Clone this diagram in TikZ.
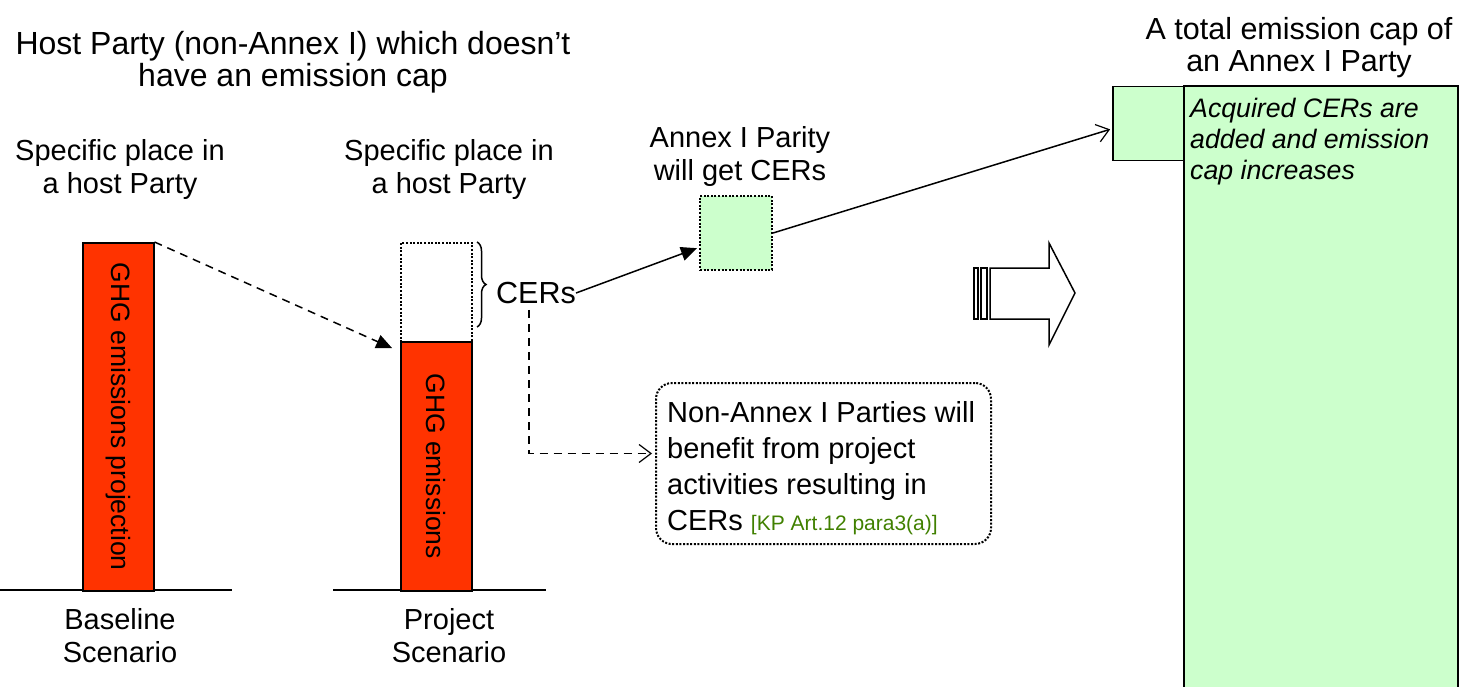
\documentclass[tikz,border=0pt]{standalone}
\usepackage{fontspec}
\setmainfont{Liberation Sans}
\usetikzlibrary{arrows.meta,calc,decorations.pathreplacing}
\definecolor{barred}{RGB}{255,51,0}
\definecolor{lgreen}{RGB}{204,255,204}
\definecolor{refgreen}{RGB}{64,128,0}
\begin{document}
\begin{tikzpicture}[x=1pt,y=-1pt,
  lbl/.style={font=\fontsize{29}{33}\selectfont, align=center, inner sep=0pt},
  bar/.style={draw=black, line width=1.5pt, fill=barred, inner sep=0pt, anchor=north west},
  dotbox/.style={draw=black, line width=2pt, dash pattern=on 2pt off 1.6pt, inner sep=0pt, anchor=north west},
  ground/.style={line width=1.5pt},
  conn/.style={line width=1.5pt},
  filltip/.style={-{Triangle[length=16pt,width=14pt]}},
  opentip/.style={-{Straight Barb[length=12pt,width=18pt,line width=1.2pt]}},
  vtext/.style={rotate=-90, font=\fontsize{26.5}{30}\selectfont, inner sep=0pt}
]
\useasboundingbox (0,0) rectangle (1471,687);

% titles
\node[lbl, font=\fontsize{32}{31.5}\selectfont] (title) at (293,62) {Host Party (non-Annex I) which doesn't\\have an emission cap};
\node[lbl] (spec1) at (120,170) {Specific place in\\a host Party};
\node[lbl] (spec2) at (449,170) {Specific place in\\a host Party};
\node[lbl] (annex) at (740,157) {Annex I Parity\\will get CERs};
\node[lbl, font=\fontsize{30.5}{32}\selectfont] (capt) at (1299,48) {A total emission cap of\\an Annex I Party};

% ground lines
\coordinate (g1a) at (0,590); \coordinate (g1b) at (232,590);
\coordinate (g2a) at (333,590); \coordinate (g2b) at (546,590);
\draw[ground] (g1a) -- (g1b);
\draw[ground] (g2a) -- (g2b);

% baseline bar
\node[bar, minimum width=71pt, minimum height=348pt] (base) at (82,242) {};
\node[vtext] (basetxt) at ($(base.center)+(0,0)$) {GHG emissions projection};
\node[lbl] (basel) at (120,636) {Baseline\\Scenario};

% project bar
\node[bar, minimum width=71pt, minimum height=249pt] (proj) at (400,341) {};
\node[vtext] (projtxt) at (proj.center) {GHG emissions};
\node[dotbox, minimum width=71pt, minimum height=99pt] (cerbox) at (400,242) {};
\node[lbl] (projl) at (449,636) {Project\\Scenario};

% brace and CERs
\coordinate (bra) at (477,242);
\coordinate (brb) at (477,327);
\draw[line width=1.5pt, decorate, decoration={brace, amplitude=9pt}] (bra) -- (brb);
\node[lbl, font=\fontsize{30.5}{33}\selectfont, anchor=west] (cers) at (496,293) {CERs};

% green dotted box
\node[dotbox, fill=lgreen, minimum width=72pt, minimum height=74pt] (gbox) at (699,195) {};

% dotted rounded box
\node[draw=black, line width=2pt, dash pattern=on 2pt off 1.6pt, rounded corners=16pt,
      minimum width=335pt, minimum height=161pt, anchor=north west] (nbox) at (655,382) {};
\node[font=\fontsize{29}{36}\selectfont, align=left, inner sep=0pt, anchor=north west] (ntext) at (667,401)
 {Non-Annex I Parties will\\benefit from project\\activities resulting in\\CERs {\color{refgreen}\fontsize{21}{22}\selectfont [KP Art.12 para3(a)]}};

% annex I cap
\node[draw=black, line width=1.5pt, fill=lgreen, minimum width=72pt, minimum height=74pt, inner sep=0pt, anchor=north west] (small) at (1112,86) {};
\coordinate (capA) at (1184,687);
\coordinate (capB) at (1184,86);
\coordinate (capC) at (1458,86);
\coordinate (capD) at (1458,687);
\fill[lgreen] (capA) rectangle (capC);
\draw[line width=1.5pt] (capA) -- (capB) -- (capC) -- (capD);
\node[font=\itshape\fontsize{26.7}{31}\selectfont, align=left, inner sep=0pt, anchor=north west] (acq) at (1190,98)
 {Acquired CERs are\\added and emission\\cap increases};

% block arrow
\coordinate (ba1) at (990,268);
\draw[line width=1.5pt, fill=white] (ba1) -- (1049,268) -- (1049,243) -- (1075,293) -- (1049,345) -- (1049,319) -- (990,319) -- cycle;
\draw[line width=1.2pt] (974,268) rectangle (978,319);
\draw[line width=1.2pt] (981,268) rectangle (987,319);

% connectors
\draw[conn, dash pattern=on 8pt off 6pt, filltip, shorten >=2pt] (base.north east) -- ($(proj.north west)+(-6,8)$);
\draw[conn, filltip] (cers.east) -- ($(gbox.north west)!0.7!(gbox.south west)+(-2,0)$);
\draw[conn, opentip, shorten >=2pt] (gbox.east) -- ($(small.west)+(0,5)$);
\draw[conn, dash pattern=on 8pt off 6pt, opentip, shorten >=3pt] ($(cers.south)+(-7,6)$) |- ($(nbox.west)+(0,-10)$);
\end{tikzpicture}
\end{document}
